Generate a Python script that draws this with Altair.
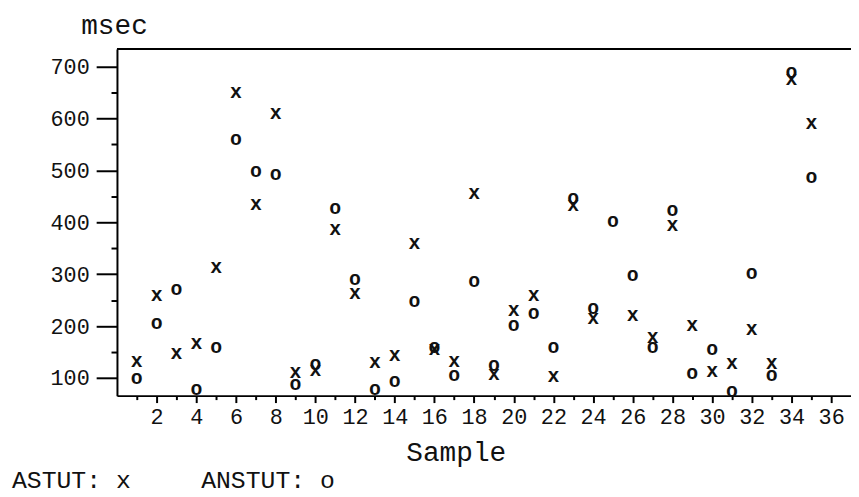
import altair as alt
import pandas as pd

samples = list(range(1, 36))
astut = [134, 262, 150, 169, 316, 652, 437, 612, 113, 117, 388, 265, 133, 147, 362,
         157, 134, 458, 110, 232, 261, 106, 436, 217, None, 223, 181, 397, 204, 115,
         131, 196, 131, 678, 594]
anstut = [102, 208, 274, 80, 161, 563, 501, 494, 91, 129, 430, 293, 80, 96, 250,
          161, 107, 288, 127, 204, 227, 161, 449, 236, 405, 301, 162, 425, 112, 157,
          77, 304, 107, 692, 490]

x_major = list(range(2, 37, 2))
x_minor = list(range(1, 36, 2))
y_major = [100, 200, 300, 400, 500, 600, 700]
y_minor = [150, 250, 350, 450, 550, 650]

W, H = 741, 350
FONT = "Liberation Mono"

df_a = pd.DataFrame({"sample": samples, "msec": astut}).dropna()
df_o = pd.DataFrame({"sample": samples, "msec": anstut})

xs = alt.Scale(domain=[0, 37], nice=False, zero=False)
ys = alt.Scale(domain=[66, 734], nice=False, zero=False)

ax_common = dict(grid=False, domainColor="black", domainWidth=2, tickColor="black",
                 tickWidth=2, labelFont=FONT, labelFontSize=22, labelColor="#111",
                 titleFont=FONT, titleFontSize=28, titleColor="#111", titleFontWeight="normal")

x_major_axis = alt.Axis(values=x_major, tickSize=7, labelPadding=4, labelAngle=0,
                        title="Sample", titleAngle=0, titleX=342, titleY=65,
                        titleAlign="center", titleBaseline="alphabetic",
                        orient="bottom", **ax_common)
y_major_axis = alt.Axis(values=y_major, tickSize=21, labelPadding=7,
                        title="msec", titleAngle=0, titleX=-3, titleY=-16,
                        titleAlign="center", titleBaseline="alphabetic",
                        orient="left", **ax_common)
x_minor_axis = alt.Axis(values=x_minor, tickSize=4, labels=False, domain=False,
                        title=None, orient="bottom", grid=False, tickColor="black", tickWidth=2)
y_minor_axis = alt.Axis(values=y_minor, tickSize=6, labels=False, domain=False,
                        title=None, orient="left", grid=False, tickColor="black", tickWidth=2)

mark_style = dict(font=FONT, fontSize=20, fontWeight="bold", color="#111",
                  baseline="middle", align="center", dy=1)

layer_x = alt.Chart(df_a).mark_text(text="x", **mark_style).encode(
    x=alt.X("sample:Q", scale=xs, axis=x_major_axis),
    y=alt.Y("msec:Q", scale=ys, axis=y_major_axis),
)
layer_o = alt.Chart(df_o).mark_text(text="o", **mark_style).encode(
    x=alt.X("sample:Q", scale=xs, axis=x_minor_axis),
    y=alt.Y("msec:Q", scale=ys, axis=y_minor_axis),
)

one = pd.DataFrame({"k": [0]})
top_line = alt.Chart(one).mark_rule(color="black", strokeWidth=2).encode(
    x=alt.value(0), x2=alt.value(W), y=alt.value(0))
leg1 = alt.Chart(one).mark_text(text="ASTUT: x", font=FONT, fontSize=25, color="#111",
                                align="left", baseline="alphabetic").encode(
    x=alt.value(-106), y=alt.value(443))
leg2 = alt.Chart(one).mark_text(text="ANSTUT: o", font=FONT, fontSize=25, color="#111",
                                align="left", baseline="alphabetic").encode(
    x=alt.value(85), y=alt.value(443))

chart = alt.layer(layer_x, layer_o, top_line, leg1, leg2).resolve_scale(
    x="shared", y="shared").resolve_axis(x="independent", y="independent").properties(
    width=W, height=H,
    autosize=alt.AutoSizeParams(type="none"),
    padding={"left": 110, "top": 39, "right": 0, "bottom": 99},
    background="white",
).configure_view(stroke=None)

chart.save("out.html", embed_options={"renderer": "svg", "actions": False})
